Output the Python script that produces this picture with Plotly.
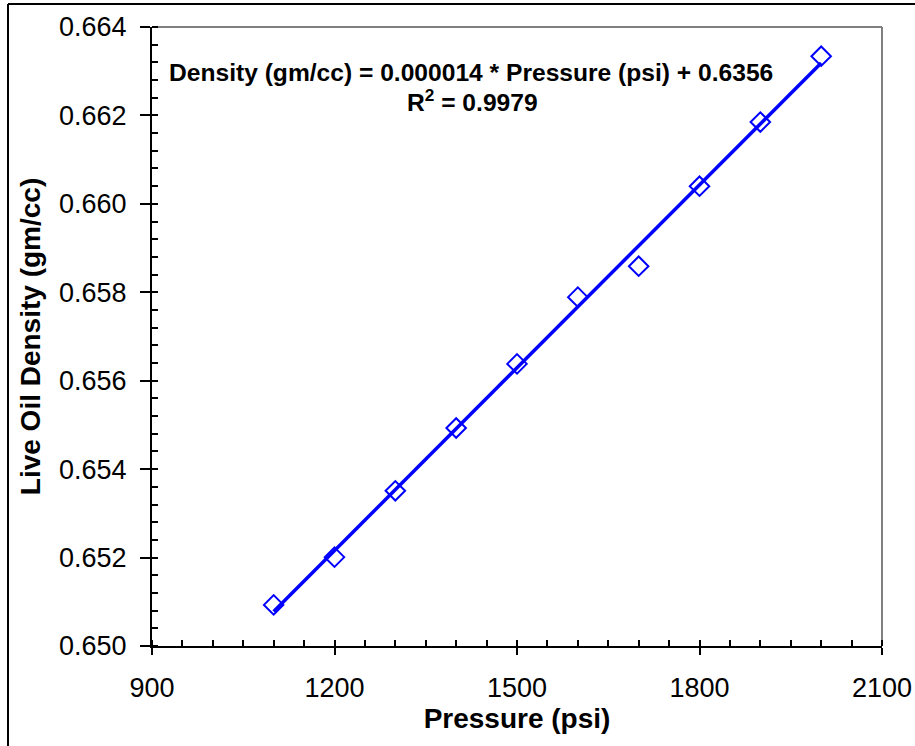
import numpy as np
import plotly.graph_objects as go

pressure = [1100, 1200, 1300, 1400, 1500, 1600, 1700, 1800, 1900, 2000]
density = [0.65093, 0.65201, 0.65351, 0.65493, 0.65638, 0.65789, 0.65859, 0.66040, 0.66185, 0.66334]
eq_line1 = "Density (gm/cc) = 0.000014 * Pressure (psi) + 0.6356"
eq_line2 = "R<sup>2</sup> = 0.9979"
x_title = "Pressure (psi)"
y_title = "Live Oil Density (gm/cc)"

slope, intercept = np.polyfit(pressure, density, 1)
fit_x = [pressure[0], pressure[-1]]
fit_y = [slope * v + intercept for v in fit_x]

FONT = "Liberation Sans, Arial, sans-serif"
BLUE = "#0000FF"

fig = go.Figure()
fig.add_trace(go.Scatter(x=fit_x, y=fit_y, mode="lines",
                         line=dict(color=BLUE, width=3.5), showlegend=False, hoverinfo="skip"))
fig.add_trace(go.Scatter(x=pressure, y=density, mode="markers",
                         marker=dict(symbol="diamond-open", size=15, color=BLUE,
                                     line=dict(color=BLUE, width=2)),
                         showlegend=False))

xr = [900, 2100]
yr = [0.650, 0.664]

fig.update_layout(
    width=915, height=746,
    margin=dict(l=152, r=33, t=27, b=100),
    paper_bgcolor="white", plot_bgcolor="white",
    font=dict(family=FONT, color="black"),
    xaxis=dict(range=xr, tick0=900, dtick=300, showgrid=False, zeroline=False, automargin=False,
               showline=True, linecolor="black", linewidth=2,
               ticks="outside", ticklen=7, tickwidth=2, tickcolor="black",
               ticklabelstandoff=10,
               tickfont=dict(size=27, family=FONT, color="black"),
               minor=dict(dtick=50, ticks="inside", ticklen=6, tickwidth=1.5, tickcolor="black"),
               title=dict(text="<b>%s</b>" % x_title, font=dict(size=28, family=FONT), standoff=6)),
    yaxis=dict(range=yr, tick0=0.650, dtick=0.002, tickformat=".3f", showgrid=False, zeroline=False,
               automargin=False,
               showline=True, linecolor="black", linewidth=2,
               ticks="outside", ticklen=10, tickwidth=2, tickcolor="black",
               ticklabelstandoff=8,
               tickfont=dict(size=27, family=FONT, color="black"),
               minor=dict(dtick=0.0004, ticks="inside", ticklen=6, tickwidth=1.5, tickcolor="black"),
               title=dict(text="<b>%s</b>" % y_title, font=dict(size=28, family=FONT), standoff=10)),
    xaxis2=dict(range=xr, overlaying="x", anchor="y", side="bottom", tick0=900, dtick=300,
                showgrid=False, zeroline=False, showline=False, showticklabels=False, automargin=False,
                ticks="inside", ticklen=6, tickwidth=2, tickcolor="black"),
    yaxis2=dict(range=yr, overlaying="y", anchor="x", side="left", tick0=0.650, dtick=0.002,
                showgrid=False, zeroline=False, showline=False, showticklabels=False, automargin=False,
                ticks="inside", ticklen=6, tickwidth=2, tickcolor="black"),
    shapes=[
        dict(type="line", xref="paper", yref="paper", x0=0, x1=1, y0=1, y1=1,
             line=dict(color="#808080", width=2), layer="below"),
        dict(type="line", xref="paper", yref="paper", x0=1, x1=1, y0=0, y1=1,
             line=dict(color="#808080", width=2), layer="below"),
        dict(type="line", xref="paper", yref="paper", x0=(8 - 152) / 730, x1=1.2,
             y0=1 + (27 - 4) / 619, y1=1 + (27 - 4) / 619, line=dict(color="black", width=2)),
        dict(type="line", xref="paper", yref="paper", x0=(8 - 152) / 730, x1=(8 - 152) / 730,
             y0=-0.3, y1=1 + (27 - 4) / 619, line=dict(color="black", width=2)),
    ],
    annotations=[
        dict(text="<b>%s</b>" % eq_line1, xref="paper", yref="paper",
             x=(471 - 152) / 730, y=1 - (72 - 27) / 619, xanchor="center", yanchor="middle",
             showarrow=False, font=dict(size=24.6, family=FONT, color="black")),
        dict(text="<b>%s</b>" % eq_line2, xref="paper", yref="paper",
             x=(472 - 152) / 730, y=1 - (100 - 27) / 619, xanchor="center", yanchor="middle",
             showarrow=False, font=dict(size=24.6, family=FONT, color="black")),
    ],
)

fig.write_html("out.html")
